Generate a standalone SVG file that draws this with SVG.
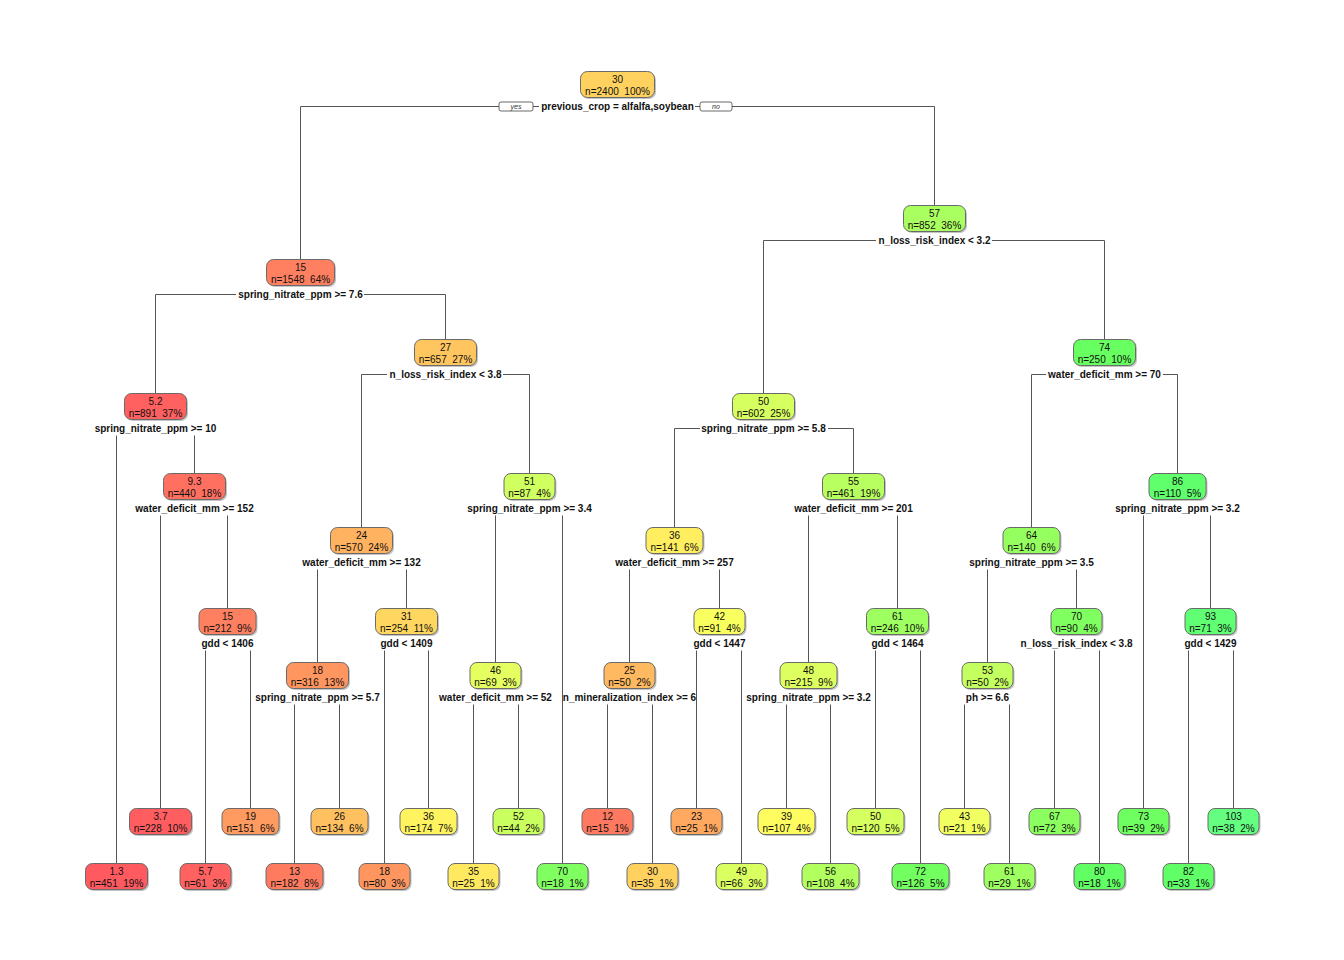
<svg xmlns="http://www.w3.org/2000/svg" width="1344" height="960" viewBox="0 0 1344 960" xml:space="preserve">
<style>
.bg{fill:#ffffff}
.sh{fill:#c4c4c4}
.bx{stroke:#6a6a6a;stroke-width:1}
.t{font-family:"Liberation Sans",Arial,sans-serif;font-size:10px;text-anchor:middle;fill:#111;white-space:pre}
.s{font-weight:bold}
.c{stroke:#555;stroke-width:1;fill:none}
.yn{fill:#fff;stroke:#444;stroke-width:0.8}
.ynt{font-family:"Liberation Sans",Arial,sans-serif;font-size:7px;font-style:italic;text-anchor:middle;fill:#333}
</style>
<rect class="bg" x="0" y="0" width="1344" height="960"/>
<g id="connectors">
<path class="c" d="M300.5,259.5V106.5H499M533,106.5H539M695,106.5H700M732,106.5H934.5V205.5"/>
<path class="c" d="M155.5,393.5V294.5H236M364,294.5H445.5V339.5"/>
<path class="c" d="M361.5,527.5V374.5H387M503,374.5H529.5V473.5"/>
<path class="c" d="M763.5,393.5V240.5H876M992,240.5H1104.5V339.5"/>
<path class="c" d="M674.5,527.5V428.5H700M828,428.5H853.5V473.5"/>
<path class="c" d="M1031.5,527.5V374.5H1046M1163,374.5H1177.5V473.5"/>
<path class="c" d="M116.5,435.5V863.5M194.5,435.5V473.5"/>
<path class="c" d="M160.5,515.5V808.5M227.5,515.5V608.5"/>
<path class="c" d="M205.5,650.5V863.5M250.5,650.5V808.5"/>
<path class="c" d="M317.5,569.5V662.5M406.5,569.5V608.5"/>
<path class="c" d="M294.5,704.5V863.5M339.5,704.5V808.5"/>
<path class="c" d="M384.5,650.5V863.5M428.5,650.5V808.5"/>
<path class="c" d="M495.5,515.5V662.5M562.5,515.5V863.5"/>
<path class="c" d="M473.5,704.5V863.5M518.5,704.5V808.5"/>
<path class="c" d="M629.5,569.5V662.5M719.5,569.5V608.5"/>
<path class="c" d="M607.5,704.5V808.5M652.5,704.5V863.5"/>
<path class="c" d="M696.5,650.5V808.5M741.5,650.5V863.5"/>
<path class="c" d="M808.5,515.5V662.5M897.5,515.5V608.5"/>
<path class="c" d="M786.5,704.5V808.5M830.5,704.5V863.5"/>
<path class="c" d="M875.5,650.5V808.5M920.5,650.5V863.5"/>
<path class="c" d="M987.5,569.5V662.5M1076.5,569.5V608.5"/>
<path class="c" d="M964.5,704.5V808.5M1009.5,704.5V863.5"/>
<path class="c" d="M1054.5,650.5V808.5M1099.5,650.5V863.5"/>
<path class="c" d="M1143.5,515.5V808.5M1210.5,515.5V608.5"/>
<path class="c" d="M1188.5,650.5V863.5M1233.5,650.5V808.5"/>
<rect class="yn" x="499" y="102" width="34" height="9" rx="2"/>
<text class="ynt" x="516" y="109">yes</text>
<rect class="yn" x="700" y="102" width="32" height="9" rx="2"/>
<text class="ynt" x="716" y="109">no</text>
</g>

<g id="node-root"><rect class="sh" x="582" y="73" width="74" height="26" rx="7"/><rect class="bx" x="580.5" y="71.5" width="74" height="26" rx="7" fill="#FFD260"/><text class="t" x="617.5" y="82.5">30</text><text class="t" x="617.5" y="94.5">n=2400  100%</text><text class="t s" x="617.5" y="110">previous_crop = alfalfa,soybean</text></g>

<g id="node-57"><rect class="sh" x="905" y="207" width="62" height="26" rx="7"/><rect class="bx" x="903.5" y="205.5" width="62" height="26" rx="7" fill="#AAFF60"/><text class="t" x="934.5" y="216.5">57</text><text class="t" x="934.5" y="228.5">n=852  36%</text><text class="t s" x="934.5" y="244">n_loss_risk_index &lt; 3.2</text></g>

<g id="node-15a"><rect class="sh" x="268" y="261" width="68" height="26" rx="7"/><rect class="bx" x="266.5" y="259.5" width="68" height="26" rx="7" fill="#FF8060"/><text class="t" x="300.5" y="270.5">15</text><text class="t" x="300.5" y="282.5">n=1548  64%</text><text class="t s" x="300.5" y="298">spring_nitrate_ppm &gt;= 7.6</text></g>

<g id="node-27"><rect class="sh" x="416" y="341" width="62" height="26" rx="7"/><rect class="bx" x="414.5" y="339.5" width="62" height="26" rx="7" fill="#FFC660"/><text class="t" x="445.5" y="350.5">27</text><text class="t" x="445.5" y="362.5">n=657  27%</text><text class="t s" x="445.5" y="378">n_loss_risk_index &lt; 3.8</text></g>

<g id="node-74"><rect class="sh" x="1075" y="341" width="62" height="26" rx="7"/><rect class="bx" x="1073.5" y="339.5" width="62" height="26" rx="7" fill="#68FF60"/><text class="t" x="1104.5" y="350.5">74</text><text class="t" x="1104.5" y="362.5">n=250  10%</text><text class="t s" x="1104.5" y="378">water_deficit_mm &gt;= 70</text></g>

<g id="node-5.2"><rect class="sh" x="126" y="395" width="62" height="26" rx="7"/><rect class="bx" x="124.5" y="393.5" width="62" height="26" rx="7" fill="#FF6060"/><text class="t" x="155.5" y="404.5">5.2</text><text class="t" x="155.5" y="416.5">n=891  37%</text><text class="t s" x="155.5" y="432">spring_nitrate_ppm &gt;= 10</text></g>

<g id="node-50"><rect class="sh" x="734" y="395" width="62" height="26" rx="7"/><rect class="bx" x="732.5" y="393.5" width="62" height="26" rx="7" fill="#D6FF60"/><text class="t" x="763.5" y="404.5">50</text><text class="t" x="763.5" y="416.5">n=602  25%</text><text class="t s" x="763.5" y="432">spring_nitrate_ppm &gt;= 5.8</text></g>

<g id="node-9.3"><rect class="sh" x="165" y="475" width="62" height="26" rx="7"/><rect class="bx" x="163.5" y="473.5" width="62" height="26" rx="7" fill="#FF7060"/><text class="t" x="194.5" y="484.5">9.3</text><text class="t" x="194.5" y="496.5">n=440  18%</text><text class="t s" x="194.5" y="512">water_deficit_mm &gt;= 152</text></g>

<g id="node-51"><rect class="sh" x="505.5" y="475" width="51" height="26" rx="7"/><rect class="bx" x="504" y="473.5" width="51" height="26" rx="7" fill="#D0FF60"/><text class="t" x="529.5" y="484.5">51</text><text class="t" x="529.5" y="496.5">n=87  4%</text><text class="t s" x="529.5" y="512">spring_nitrate_ppm &gt;= 3.4</text></g>

<g id="node-55"><rect class="sh" x="824" y="475" width="62" height="26" rx="7"/><rect class="bx" x="822.5" y="473.5" width="62" height="26" rx="7" fill="#B8FF60"/><text class="t" x="853.5" y="484.5">55</text><text class="t" x="853.5" y="496.5">n=461  19%</text><text class="t s" x="853.5" y="512">water_deficit_mm &gt;= 201</text></g>

<g id="node-86"><rect class="sh" x="1150.5" y="475" width="57" height="26" rx="7"/><rect class="bx" x="1149" y="473.5" width="57" height="26" rx="7" fill="#60FF6C"/><text class="t" x="1177.5" y="484.5">86</text><text class="t" x="1177.5" y="496.5">n=110  5%</text><text class="t s" x="1177.5" y="512">spring_nitrate_ppm &gt;= 3.2</text></g>

<g id="node-24"><rect class="sh" x="332" y="529" width="62" height="26" rx="7"/><rect class="bx" x="330.5" y="527.5" width="62" height="26" rx="7" fill="#FFB260"/><text class="t" x="361.5" y="538.5">24</text><text class="t" x="361.5" y="550.5">n=570  24%</text><text class="t s" x="361.5" y="566">water_deficit_mm &gt;= 132</text></g>

<g id="node-36a"><rect class="sh" x="647.5" y="529" width="57" height="26" rx="7"/><rect class="bx" x="646" y="527.5" width="57" height="26" rx="7" fill="#FFEE60"/><text class="t" x="674.5" y="538.5">36</text><text class="t" x="674.5" y="550.5">n=141  6%</text><text class="t s" x="674.5" y="566">water_deficit_mm &gt;= 257</text></g>

<g id="node-64"><rect class="sh" x="1004.5" y="529" width="57" height="26" rx="7"/><rect class="bx" x="1003" y="527.5" width="57" height="26" rx="7" fill="#96FF60"/><text class="t" x="1031.5" y="538.5">64</text><text class="t" x="1031.5" y="550.5">n=140  6%</text><text class="t s" x="1031.5" y="566">spring_nitrate_ppm &gt;= 3.5</text></g>

<g id="node-15b"><rect class="sh" x="200.5" y="610" width="57" height="26" rx="7"/><rect class="bx" x="199" y="608.5" width="57" height="26" rx="7" fill="#FF8060"/><text class="t" x="227.5" y="619.5">15</text><text class="t" x="227.5" y="631.5">n=212  9%</text><text class="t s" x="227.5" y="647">gdd &lt; 1406</text></g>

<g id="node-31"><rect class="sh" x="377" y="610" width="62" height="26" rx="7"/><rect class="bx" x="375.5" y="608.5" width="62" height="26" rx="7" fill="#FFD760"/><text class="t" x="406.5" y="619.5">31</text><text class="t" x="406.5" y="631.5">n=254  11%</text><text class="t s" x="406.5" y="647">gdd &lt; 1409</text></g>

<g id="node-42"><rect class="sh" x="695.5" y="610" width="51" height="26" rx="7"/><rect class="bx" x="694" y="608.5" width="51" height="26" rx="7" fill="#FAFF60"/><text class="t" x="719.5" y="619.5">42</text><text class="t" x="719.5" y="631.5">n=91  4%</text><text class="t s" x="719.5" y="647">gdd &lt; 1447</text></g>

<g id="node-61a"><rect class="sh" x="868" y="610" width="62" height="26" rx="7"/><rect class="bx" x="866.5" y="608.5" width="62" height="26" rx="7" fill="#9EFF60"/><text class="t" x="897.5" y="619.5">61</text><text class="t" x="897.5" y="631.5">n=246  10%</text><text class="t s" x="897.5" y="647">gdd &lt; 1464</text></g>

<g id="node-70a"><rect class="sh" x="1052.5" y="610" width="51" height="26" rx="7"/><rect class="bx" x="1051" y="608.5" width="51" height="26" rx="7" fill="#80FF60"/><text class="t" x="1076.5" y="619.5">70</text><text class="t" x="1076.5" y="631.5">n=90  4%</text><text class="t s" x="1076.5" y="647">n_loss_risk_index &lt; 3.8</text></g>

<g id="node-93"><rect class="sh" x="1186.5" y="610" width="51" height="26" rx="7"/><rect class="bx" x="1185" y="608.5" width="51" height="26" rx="7" fill="#60FF74"/><text class="t" x="1210.5" y="619.5">93</text><text class="t" x="1210.5" y="631.5">n=71  3%</text><text class="t s" x="1210.5" y="647">gdd &lt; 1429</text></g>

<g id="node-18a"><rect class="sh" x="288" y="664" width="62" height="26" rx="7"/><rect class="bx" x="286.5" y="662.5" width="62" height="26" rx="7" fill="#FF9660"/><text class="t" x="317.5" y="673.5">18</text><text class="t" x="317.5" y="685.5">n=316  13%</text><text class="t s" x="317.5" y="701">spring_nitrate_ppm &gt;= 5.7</text></g>

<g id="node-46"><rect class="sh" x="471.5" y="664" width="51" height="26" rx="7"/><rect class="bx" x="470" y="662.5" width="51" height="26" rx="7" fill="#E6FF60"/><text class="t" x="495.5" y="673.5">46</text><text class="t" x="495.5" y="685.5">n=69  3%</text><text class="t s" x="495.5" y="701">water_deficit_mm &gt;= 52</text></g>

<g id="node-25"><rect class="sh" x="605.5" y="664" width="51" height="26" rx="7"/><rect class="bx" x="604" y="662.5" width="51" height="26" rx="7" fill="#FFB960"/><text class="t" x="629.5" y="673.5">25</text><text class="t" x="629.5" y="685.5">n=50  2%</text><text class="t s" x="629.5" y="701">n_mineralization_index &gt;= 6</text></g>

<g id="node-48"><rect class="sh" x="781.5" y="664" width="57" height="26" rx="7"/><rect class="bx" x="780" y="662.5" width="57" height="26" rx="7" fill="#DEFF60"/><text class="t" x="808.5" y="673.5">48</text><text class="t" x="808.5" y="685.5">n=215  9%</text><text class="t s" x="808.5" y="701">spring_nitrate_ppm &gt;= 3.2</text></g>

<g id="node-53"><rect class="sh" x="963.5" y="664" width="51" height="26" rx="7"/><rect class="bx" x="962" y="662.5" width="51" height="26" rx="7" fill="#C4FF60"/><text class="t" x="987.5" y="673.5">53</text><text class="t" x="987.5" y="685.5">n=50  2%</text><text class="t s" x="987.5" y="701">ph &gt;= 6.6</text></g>

<!-- upper leaves -->
<g id="leaf-3.7"><rect class="sh" x="131" y="810" width="62" height="26" rx="7"/><rect class="bx" x="129.5" y="808.5" width="62" height="26" rx="7" fill="#FF5D60"/><text class="t" x="160.5" y="819.5">3.7</text><text class="t" x="160.5" y="831.5">n=228  10%</text></g>
<g id="leaf-19"><rect class="sh" x="223.5" y="810" width="57" height="26" rx="7"/><rect class="bx" x="222" y="808.5" width="57" height="26" rx="7" fill="#FF9B60"/><text class="t" x="250.5" y="819.5">19</text><text class="t" x="250.5" y="831.5">n=151  6%</text></g>
<g id="leaf-26"><rect class="sh" x="312.5" y="810" width="57" height="26" rx="7"/><rect class="bx" x="311" y="808.5" width="57" height="26" rx="7" fill="#FFC060"/><text class="t" x="339.5" y="819.5">26</text><text class="t" x="339.5" y="831.5">n=134  6%</text></g>
<g id="leaf-36"><rect class="sh" x="401.5" y="810" width="57" height="26" rx="7"/><rect class="bx" x="400" y="808.5" width="57" height="26" rx="7" fill="#FFF460"/><text class="t" x="428.5" y="819.5">36</text><text class="t" x="428.5" y="831.5">n=174  7%</text></g>
<g id="leaf-52"><rect class="sh" x="494.5" y="810" width="51" height="26" rx="7"/><rect class="bx" x="493" y="808.5" width="51" height="26" rx="7" fill="#CAFF60"/><text class="t" x="518.5" y="819.5">52</text><text class="t" x="518.5" y="831.5">n=44  2%</text></g>
<g id="leaf-12"><rect class="sh" x="583.5" y="810" width="51" height="26" rx="7"/><rect class="bx" x="582" y="808.5" width="51" height="26" rx="7" fill="#FF7860"/><text class="t" x="607.5" y="819.5">12</text><text class="t" x="607.5" y="831.5">n=15  1%</text></g>
<g id="leaf-23"><rect class="sh" x="672.5" y="810" width="51" height="26" rx="7"/><rect class="bx" x="671" y="808.5" width="51" height="26" rx="7" fill="#FFA860"/><text class="t" x="696.5" y="819.5">23</text><text class="t" x="696.5" y="831.5">n=25  1%</text></g>
<g id="leaf-39"><rect class="sh" x="759.5" y="810" width="57" height="26" rx="7"/><rect class="bx" x="758" y="808.5" width="57" height="26" rx="7" fill="#FFFC60"/><text class="t" x="786.5" y="819.5">39</text><text class="t" x="786.5" y="831.5">n=107  4%</text></g>
<g id="leaf-50"><rect class="sh" x="848.5" y="810" width="57" height="26" rx="7"/><rect class="bx" x="847" y="808.5" width="57" height="26" rx="7" fill="#D6FF60"/><text class="t" x="875.5" y="819.5">50</text><text class="t" x="875.5" y="831.5">n=120  5%</text></g>
<g id="leaf-43"><rect class="sh" x="940.5" y="810" width="51" height="26" rx="7"/><rect class="bx" x="939" y="808.5" width="51" height="26" rx="7" fill="#F2FF60"/><text class="t" x="964.5" y="819.5">43</text><text class="t" x="964.5" y="831.5">n=21  1%</text></g>
<g id="leaf-67"><rect class="sh" x="1030.5" y="810" width="51" height="26" rx="7"/><rect class="bx" x="1029" y="808.5" width="51" height="26" rx="7" fill="#8CFF60"/><text class="t" x="1054.5" y="819.5">67</text><text class="t" x="1054.5" y="831.5">n=72  3%</text></g>
<g id="leaf-73"><rect class="sh" x="1119.5" y="810" width="51" height="26" rx="7"/><rect class="bx" x="1118" y="808.5" width="51" height="26" rx="7" fill="#6EFF60"/><text class="t" x="1143.5" y="819.5">73</text><text class="t" x="1143.5" y="831.5">n=39  2%</text></g>
<g id="leaf-103"><rect class="sh" x="1209.5" y="810" width="51" height="26" rx="7"/><rect class="bx" x="1208" y="808.5" width="51" height="26" rx="7" fill="#64FF80"/><text class="t" x="1233.5" y="819.5">103</text><text class="t" x="1233.5" y="831.5">n=38  2%</text></g>

<!-- lower leaves -->
<g id="leaf-1.3"><rect class="sh" x="87" y="865" width="62" height="26" rx="7"/><rect class="bx" x="85.5" y="863.5" width="62" height="26" rx="7" fill="#FF5A60"/><text class="t" x="116.5" y="874.5">1.3</text><text class="t" x="116.5" y="886.5">n=451  19%</text></g>
<g id="leaf-5.7"><rect class="sh" x="181.5" y="865" width="51" height="26" rx="7"/><rect class="bx" x="180" y="863.5" width="51" height="26" rx="7" fill="#FF6260"/><text class="t" x="205.5" y="874.5">5.7</text><text class="t" x="205.5" y="886.5">n=61  3%</text></g>
<g id="leaf-13"><rect class="sh" x="267.5" y="865" width="57" height="26" rx="7"/><rect class="bx" x="266" y="863.5" width="57" height="26" rx="7" fill="#FF7B60"/><text class="t" x="294.5" y="874.5">13</text><text class="t" x="294.5" y="886.5">n=182  8%</text></g>
<g id="leaf-18"><rect class="sh" x="360.5" y="865" width="51" height="26" rx="7"/><rect class="bx" x="359" y="863.5" width="51" height="26" rx="7" fill="#FF9660"/><text class="t" x="384.5" y="874.5">18</text><text class="t" x="384.5" y="886.5">n=80  3%</text></g>
<g id="leaf-35"><rect class="sh" x="449.5" y="865" width="51" height="26" rx="7"/><rect class="bx" x="448" y="863.5" width="51" height="26" rx="7" fill="#FFE960"/><text class="t" x="473.5" y="874.5">35</text><text class="t" x="473.5" y="886.5">n=25  1%</text></g>
<g id="leaf-70"><rect class="sh" x="538.5" y="865" width="51" height="26" rx="7"/><rect class="bx" x="537" y="863.5" width="51" height="26" rx="7" fill="#80FF60"/><text class="t" x="562.5" y="874.5">70</text><text class="t" x="562.5" y="886.5">n=18  1%</text></g>
<g id="leaf-30"><rect class="sh" x="628.5" y="865" width="51" height="26" rx="7"/><rect class="bx" x="627" y="863.5" width="51" height="26" rx="7" fill="#FFD260"/><text class="t" x="652.5" y="874.5">30</text><text class="t" x="652.5" y="886.5">n=35  1%</text></g>
<g id="leaf-49"><rect class="sh" x="717.5" y="865" width="51" height="26" rx="7"/><rect class="bx" x="716" y="863.5" width="51" height="26" rx="7" fill="#DAFF60"/><text class="t" x="741.5" y="874.5">49</text><text class="t" x="741.5" y="886.5">n=66  3%</text></g>
<g id="leaf-56"><rect class="sh" x="803.5" y="865" width="57" height="26" rx="7"/><rect class="bx" x="802" y="863.5" width="57" height="26" rx="7" fill="#B2FF60"/><text class="t" x="830.5" y="874.5">56</text><text class="t" x="830.5" y="886.5">n=108  4%</text></g>
<g id="leaf-72"><rect class="sh" x="893.5" y="865" width="57" height="26" rx="7"/><rect class="bx" x="892" y="863.5" width="57" height="26" rx="7" fill="#72FF60"/><text class="t" x="920.5" y="874.5">72</text><text class="t" x="920.5" y="886.5">n=126  5%</text></g>
<g id="leaf-61"><rect class="sh" x="985.5" y="865" width="51" height="26" rx="7"/><rect class="bx" x="984" y="863.5" width="51" height="26" rx="7" fill="#9EFF60"/><text class="t" x="1009.5" y="874.5">61</text><text class="t" x="1009.5" y="886.5">n=29  1%</text></g>
<g id="leaf-80"><rect class="sh" x="1075.5" y="865" width="51" height="26" rx="7"/><rect class="bx" x="1074" y="863.5" width="51" height="26" rx="7" fill="#62FF64"/><text class="t" x="1099.5" y="874.5">80</text><text class="t" x="1099.5" y="886.5">n=18  1%</text></g>
<g id="leaf-82"><rect class="sh" x="1164.5" y="865" width="51" height="26" rx="7"/><rect class="bx" x="1163" y="863.5" width="51" height="26" rx="7" fill="#60FF68"/><text class="t" x="1188.5" y="874.5">82</text><text class="t" x="1188.5" y="886.5">n=33  1%</text></g>
</svg>
